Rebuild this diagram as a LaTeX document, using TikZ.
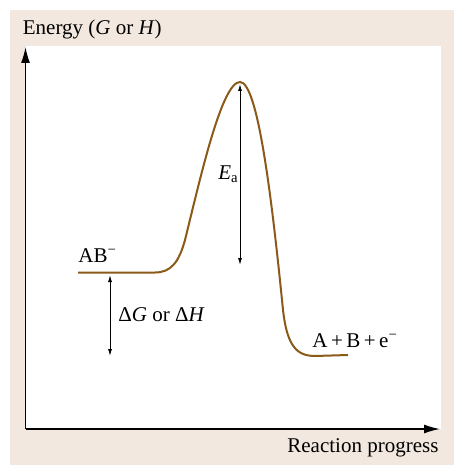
\documentclass[tikz,border=0pt]{standalone}
\usepackage{fontspec}
\setmainfont{Liberation Serif}
\usetikzlibrary{arrows.meta}
\definecolor{beige}{RGB}{242,232,223}
\definecolor{curvebrown}{RGB}{139,90,25}
\begin{document}
\begin{tikzpicture}[x=0.5pt,y=-0.5pt,
  lbl/.style={inner sep=0pt,anchor=base west,font=\fontsize{10.5}{12.6}\selectfont},
  axis/.style={line width=0.75pt,-{Latex[length=8pt,width=4.5pt]}},
  dim/.style={line width=0.45pt,{Latex[length=3.5pt,width=2pt]}-{Latex[length=3.5pt,width=2pt]}},
  curve/.style={line width=1pt,curvebrown}]
\useasboundingbox (0,0) rectangle (454,465);
\fill[beige] (10,10) rectangle (454,465);
\fill[white] (25.5,46) rectangle (441,429);
% axes
\coordinate (O) at (25.5,429);
\coordinate (ytip) at (25.5,47);
\coordinate (xtip) at (440,429);
\draw[axis] (O) -- (ytip);
\draw[axis] (O) -- (xtip);
% curve
\draw[curve] (78,272.5) -- (155,272.5)
  .. controls (171,272.5) and (179,262) .. (185,240)
  .. controls (201,175) and (222,82) .. (240,82)
  .. controls (258,82) and (272,200) .. (283,310)
  .. controls (287,345) and (296,356) .. (315,356) -- (348,355);
% dimension arrows
\coordinate (eatop) at (240,84);
\coordinate (eabot) at (240,265);
\draw[dim] (eatop) -- (eabot);
\coordinate (dgtop) at (110,275);
\coordinate (dgbot) at (110,356);
\draw[dim] (dgtop) -- (dgbot);
% labels
\node[lbl] (ylab) at (22.5,35) {Energy (\textit{G} or \textit{H})};
\node[lbl] (xlab) at (287,452) {Reaction progress};
\node[lbl] (ab) at (78,262) {AB\textsuperscript{−}};
\node[lbl] (dg) at (118,321) {Δ\textit{G} or Δ\textit{H}};
\node[lbl] (ea) at (218,179) {\textit{E}\textsubscript{a}};
\node[lbl] (prod) at (312,347) {A\,+\,B\,+\,e\textsuperscript{−}};
\end{tikzpicture}
\end{document}
